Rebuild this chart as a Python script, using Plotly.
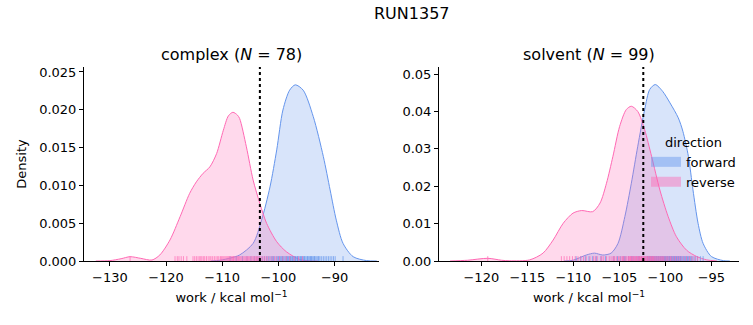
import plotly.graph_objects as go

# ---------------- data ----------------
title_text = "RUN1357"
panel_names = ["complex", "solvent"]
panel_n = [78, 99]
directions = ["forward", "reverse"]

# KDE curves (work in kcal/mol, density)
complex_forward_x = [-112.0, -110.4, -108.5, -106.9, -104.5, -103.0, -101.5, -100.3, -99.2, -98.0, -97.0,
                     -95.6, -93.8, -92.0, -90.8, -89.7, -88.5, -86.7, -84.3, -82.5]
complex_forward_y = [0.0, 0.0001, 0.0004, 0.0008, 0.00233, 0.0054, 0.0098, 0.0147, 0.01997, 0.0226, 0.0233,
                     0.0226, 0.0191, 0.0138, 0.0094, 0.0054, 0.00233, 0.00057, 0.00005, 0.0]
complex_reverse_x = [-132.5, -130.0, -128.0, -126.4, -124.5, -122.5, -121.1, -119.3, -117.5, -115.8, -114.6,
                     -113.4, -112.2, -111.0, -109.8, -108.9, -108.1, -107.3, -106.9, -105.7, -104.5, -103.3,
                     -102.1, -100.3, -98.6, -96.2, -94.5, -93.0]
complex_reverse_y = [0.0, 0.00005, 0.0003, 0.00057, 0.00035, 0.00013, 0.0008, 0.00278, 0.00586, 0.00894, 0.01047,
                     0.0116, 0.01245, 0.01421, 0.0173, 0.0192, 0.01967, 0.0193, 0.01884, 0.0151, 0.0107, 0.0076,
                     0.00498, 0.00255, 0.00123, 0.0002, 0.00003, 0.0]
solvent_forward_x = [-111.0, -110.04, -108.6, -107.7, -106.8, -105.9, -105.15, -104.4, -103.7, -103.0, -102.25,
                     -101.7, -101.1, -100.3, -99.5, -98.6, -98.1, -97.5, -97.0, -96.45, -95.9, -95.0, -93.7, -93.0]
solvent_forward_y = [0.0, 0.0002, 0.0016, 0.0021, 0.0016, 0.0021, 0.0047, 0.0119, 0.0208, 0.0307, 0.0405,
                     0.0459, 0.0472, 0.0454, 0.0423, 0.0383, 0.0347, 0.028, 0.019, 0.0101, 0.0047, 0.0012, 0.0001, 0.0]
solvent_reverse_x = [-123.4, -121.5, -119.3, -117.8, -116.9, -114.75, -113.3, -112.2, -111.1, -110.04, -109.1,
                     -107.9, -107.1, -106.4, -105.7, -104.97, -104.25, -103.7, -103.0, -102.25, -101.5, -100.6,
                     -99.7, -98.8, -97.7, -96.6, -95.5, -94.4]
solvent_reverse_y = [0.0, 0.0002, 0.00072, 0.0002, 0.00005, 0.0003, 0.0021, 0.0056, 0.0101, 0.0128, 0.0135,
                     0.0132, 0.0155, 0.0208, 0.028, 0.036, 0.0405, 0.0414, 0.040, 0.0351, 0.028, 0.019,
                     0.0119, 0.0065, 0.0029, 0.0012, 0.0003, 0.0]

# individual work values (rug)
complex_forward_rug = [-108.6, -107.5, -106.4, -105.6, -104.9, -104.3, -103.8, -103.4, -102.9, -102.5,
                       -102.1, -101.8, -101.5, -101.2, -100.9, -100.6, -100.3, -100.0, -99.8, -99.6,
                       -99.4, -99.2, -99.0, -98.8, -98.6, -98.4, -98.2, -98.0, -97.8, -97.6,
                       -97.5, -97.3, -97.1, -96.9, -96.7, -96.5, -96.3, -96.1, -95.9, -95.7,
                       -95.5, -95.3, -95.1, -94.9, -94.7, -94.5, -94.3, -94.1, -93.9, -93.7,
                       -93.5, -93.3, -93.1, -92.9, -92.6, -92.3, -92.0, -91.7, -91.4, -91.1,
                       -90.8, -90.5, -90.2, -89.9, -88.5, -101.0, -100.1, -99.3, -98.5, -97.9,
                       -97.0, -96.6, -96.0, -95.4, -94.8, -94.2, -93.6, -92.8]
complex_reverse_rug = [-126.4, -118.4, -118.0, -117.7, -117.3, -116.9, -116.3,
                       -115.2, -114.9, -114.6, -114.3, -114.0, -113.8, -113.6, -113.3, -113.1, -112.8, -112.5,
                       -112.2, -112.0,
                       -111.7, -111.4, -111.1, -110.8, -110.6, -110.3, -110.1, -109.9, -109.7, -109.5,
                       -109.3, -109.1, -108.9, -108.7, -108.5, -108.3, -108.2, -108.0, -107.9, -107.7,
                       -107.5, -107.3, -107.1, -106.9, -106.7, -106.5, -106.3, -106.1, -105.9, -105.7,
                       -105.5, -105.3, -105.1, -104.9, -104.7, -104.5, -104.3, -104.1, -103.9, -103.7,
                       -103.5, -103.3, -103.1, -102.8, -102.5, -102.2, -101.9, -101.5, -101.1, -100.7,
                       -100.3, -99.8, -99.2, -98.6, -98.0, -97.2, -96.4, -95.7]
solvent_forward_rug = [-109.7, -109.2, -108.7, -108.3, -107.9, -107.5, -107.0, -106.5,
                       -105.6, -105.2, -104.9, -104.6, -104.3, -104.0, -103.7, -103.4, -103.2, -103.0,
                       -102.8, -102.6, -102.4, -102.2, -102.0, -101.9, -101.8, -101.7, -101.6, -101.5,
                       -101.4, -101.3, -101.2, -101.1, -101.0, -100.9, -100.8, -100.7, -100.6, -100.5,
                       -100.4, -100.3, -100.2, -100.1, -100.0, -99.9, -99.8, -99.7, -99.6, -99.5,
                       -99.4, -99.3, -99.2, -99.1, -99.0, -98.9, -98.8, -98.7, -98.6, -98.5,
                       -98.4, -98.3, -98.2, -98.1, -98.0, -97.9, -97.8, -97.7, -97.6, -97.5,
                       -97.4, -97.3, -97.2, -97.1, -96.9, -96.7, -96.5, -96.2, -95.9, -101.95,
                       -101.75, -101.55, -101.35, -101.15, -100.95, -100.75, -100.55, -100.35, -100.15, -99.95,
                       -99.75, -99.55, -99.35, -99.15, -98.95, -98.75, -98.55, -98.35, -102.9, -103.6, -104.45]
solvent_reverse_rug = [-119.3,
                       -111.3, -111.0, -110.7, -110.4, -110.1, -109.8, -109.5, -109.2, -108.9, -108.6,
                       -108.2, -107.8, -107.4, -107.0, -106.7, -106.4, -106.1, -105.9, -105.7, -105.5,
                       -105.3, -105.1, -104.95, -104.8, -104.65, -104.5, -104.35, -104.2, -104.05, -103.9,
                       -103.8, -103.7, -103.6, -103.5, -103.4, -103.3, -103.2, -103.1, -103.0, -102.9,
                       -102.8, -102.7, -102.6, -102.5, -102.4, -102.3, -102.2, -102.1, -102.0, -101.9,
                       -101.8, -101.7, -101.6, -101.5, -101.4, -101.3, -101.2, -101.1, -101.0, -100.9,
                       -100.8, -100.7, -100.6, -100.5, -100.4, -100.3, -100.2, -100.05, -99.9, -99.75,
                       -99.6, -99.45, -99.3, -99.1, -98.9, -98.7, -98.5, -98.3, -98.0, -97.7,
                       -97.4, -97.1, -96.8, -96.5, -104.55, -104.0, -103.75, -103.45, -103.15, -102.85,
                       -102.55, -102.25, -101.95, -101.65, -101.35, -105.6, -106.9, -107.6]

# free-energy estimate (dotted vertical line)
estimate = [-103.3, -102.4]

# axes
x_ranges = [[-134.6, -82.1], [-124.6, -92.0]]
y_ranges = [[0, 0.02566], [0, 0.0519]]
x_ticks = [[-130, -120, -110, -100, -90], [-120, -115, -110, -105, -100, -95]]
y_ticks = [[0.0, 0.005, 0.010, 0.015, 0.020, 0.025], [0.0, 0.01, 0.02, 0.03, 0.04, 0.05]]
y_tickformats = [".3f", ".2f"]

# ---------------- styling ----------------
FONT = "DejaVu Sans"
colors = {"forward": "100,149,237", "reverse": "255,105,180"}

curves = {
    ("complex", "forward"): (complex_forward_x, complex_forward_y),
    ("complex", "reverse"): (complex_reverse_x, complex_reverse_y),
    ("solvent", "forward"): (solvent_forward_x, solvent_forward_y),
    ("solvent", "reverse"): (solvent_reverse_x, solvent_reverse_y),
}
rugs = {
    ("complex", "forward"): complex_forward_rug,
    ("complex", "reverse"): complex_reverse_rug,
    ("solvent", "forward"): solvent_forward_rug,
    ("solvent", "reverse"): solvent_reverse_rug,
}

fig = go.Figure()
for i, name in enumerate(panel_names):
    xa = "x" if i == 0 else "x2"
    ya = "y" if i == 0 else "y2"
    for d in directions:
        cx, cy = curves[(name, d)]
        fig.add_trace(go.Scatter(
            x=cx, y=cy, mode="lines", xaxis=xa, yaxis=ya,
            line=dict(color=f"rgb({colors[d]})", width=1, shape="spline", smoothing=0.8),
            fill="toself", fillcolor=f"rgba({colors[d]},0.25)",
            name=d, legendgroup=d, showlegend=False,
        ))
    rug_h = 0.025 * y_ranges[i][1]
    for d in directions:
        rx, ry = [], []
        for v in rugs[(name, d)]:
            rx += [v, v, None]
            ry += [0, rug_h, None]
        fig.add_trace(go.Scatter(
            x=rx, y=ry, mode="lines", xaxis=xa, yaxis=ya,
            line=dict(color=f"rgba({colors[d]},0.7)", width=1),
            showlegend=False, hoverinfo="skip",
        ))
    fig.add_trace(go.Scatter(
        x=[estimate[i], estimate[i]], y=[0, y_ranges[i][1]], mode="lines", xaxis=xa, yaxis=ya,
        line=dict(color="black", width=2, dash="dot"), showlegend=False,
    ))

# legend entries (patch-like swatches, no data)
for d in directions:
    fig.add_trace(go.Scatter(
        x=[None], y=[None], mode="lines", xaxis="x2", yaxis="y2",
        line=dict(color=f"rgba({colors[d]},0.45)", width=10),
        name=d, legendgroup=d, showlegend=True,
    ))

axis_common = dict(showline=True, linecolor="black", linewidth=1, ticks="outside", ticklen=4,
                   tickcolor="black", showgrid=False, zeroline=False,
                   tickfont=dict(family=FONT, size=13, color="black"))

W, H = 753, 325
ml, mr, mt, mb = 84, 14, 67, 64
pw = W - ml - mr
ph = H - mt - mb
d1 = [0, (379 - ml) / pw]
d2 = [(439 - ml) / pw, 1]

xlabel = dict(text="work / kcal mol<sup>−1</sup>", font=dict(size=13), standoff=9)
fig.update_layout(
    width=W, height=H,
    margin=dict(l=ml, r=mr, t=mt, b=mb, pad=0),
    paper_bgcolor="white", plot_bgcolor="white",
    font=dict(family=FONT, size=13, color="black"),
    xaxis=dict(domain=d1, range=x_ranges[0], tickvals=x_ticks[0], title=xlabel, **axis_common),
    yaxis=dict(domain=[0, 1], range=y_ranges[0], tickvals=y_ticks[0], tickformat=y_tickformats[0],
               title=dict(text="Density", font=dict(size=13), standoff=9), **axis_common),
    xaxis2=dict(domain=d2, range=x_ranges[1], tickvals=x_ticks[1], anchor="y2", title=xlabel, **axis_common),
    yaxis2=dict(domain=[0, 1], range=y_ranges[1], tickvals=y_ticks[1], tickformat=y_tickformats[1],
                anchor="x2", **axis_common),
    legend=dict(x=(646 - ml) / pw, y=(261 - 130) / ph, xanchor="left", yanchor="top",
                bgcolor="rgba(0,0,0,0)", font=dict(family=FONT, size=13),
                title=dict(text="direction", side="top center", font=dict(family=FONT, size=13)),
                itemwidth=30, tracegroupgap=0),
    showlegend=True,
)

annotations = [
    dict(text=title_text, x=0.5, xref="paper", y=(261 - 13) / ph, yref="paper",
         yanchor="middle", xanchor="center", showarrow=False, font=dict(size=16)),
]
for i, name in enumerate(panel_names):
    dom = d1 if i == 0 else d2
    annotations.append(dict(
        text=f"{name} (<i>N</i> = {panel_n[i]})", x=(dom[0] + dom[1]) / 2, xref="paper",
        y=(261 - 54) / ph, yref="paper", yanchor="middle", xanchor="center",
        showarrow=False, font=dict(size=16)))
fig.update_layout(annotations=annotations)

fig.write_html("out.html")
